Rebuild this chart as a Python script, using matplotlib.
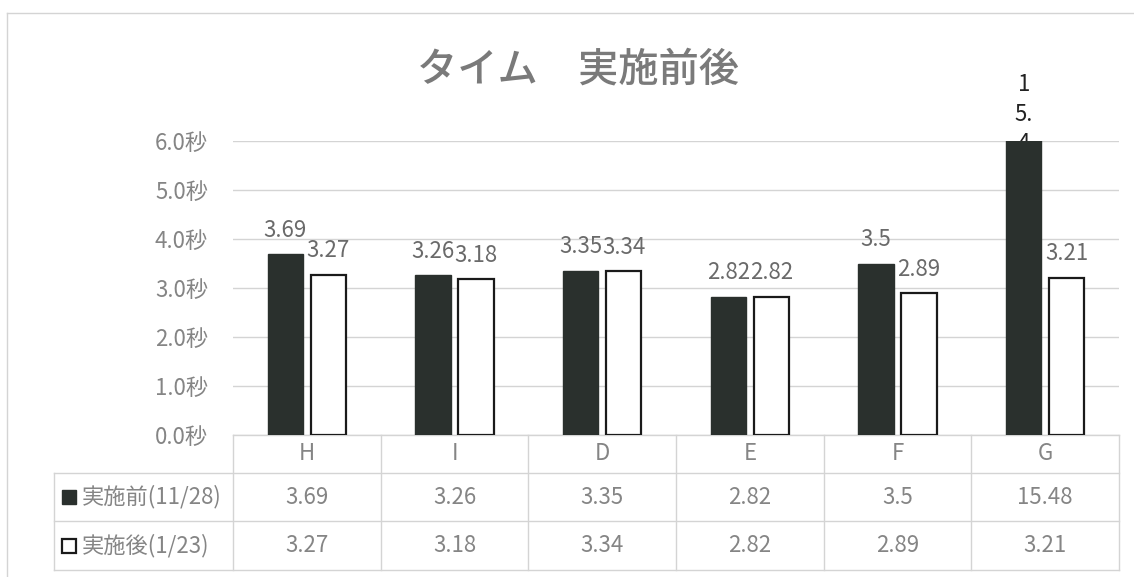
import matplotlib
matplotlib.use("Agg")
import matplotlib.pyplot as plt
from matplotlib.lines import Line2D
import matplotlib.transforms as mtransforms

plt.rcParams['font.family'] = ['Noto Sans CJK JP', 'DejaVu Sans']

categories = ["H", "I", "D", "E", "F", "G"]
before = [3.69, 3.26, 3.35, 2.82, 3.5, 15.48]
after = [3.27, 3.18, 3.34, 2.82, 2.89, 3.21]
series_names = ["実施前(11/28)", "実施後(1/23)"]
yticks = [0.0, 1.0, 2.0, 3.0, 4.0, 5.0, 6.0]
title = "タイム　実施前後"

W, H = 1134, 577
fig = plt.figure(figsize=(W / 100, H / 100), dpi=100)
fig.patch.set_facecolor("white")

# axes placement (pixels)
L, R, T, B = 233, 1119, 141, 435
ax = fig.add_axes([L / W, (H - B) / H, (R - L) / W, (B - T) / H])

dark = "#2a302d"
grey_txt = "#858585"
lbl_txt = "#6a6a6a"
line_c = "#d4d4d4"
fs = 16

ymax = 6.0
ax.set_ylim(0, ymax)
ax.set_xlim(-0.5, len(categories) - 0.5)

x = list(range(len(categories)))
bw = 0.24
off = 0.145
ax.bar([i - off for i in x], before, width=bw, color=dark, edgecolor=dark, zorder=3)
ax.bar([i + off for i in x], after, width=bw, color="white", edgecolor="#1a1a1a",
       linewidth=1.6, zorder=3)

for sp in ax.spines.values():
    sp.set_visible(False)
ax.set_yticks(yticks)
ax.set_yticklabels([f"{v:.1f}秒" for v in yticks], color=grey_txt, fontsize=fs)
ax.tick_params(axis="y", length=0, pad=18)
ax.set_xticks([])
ax.yaxis.grid(True, color=line_c, linewidth=1)
ax.set_axisbelow(True)

# data labels
for i, v in enumerate(before):
    if v <= ymax:
        ax.annotate(f"{v:g}", xy=(i - off, v), xytext=(0, 9), textcoords="offset points",
                    ha="center", va="bottom", fontsize=fs, color=lbl_txt, zorder=5)
    else:
        s = f"{v:g}"
        wrapped = "\n".join([s[0], s[1:3], s[3]])
        ax.annotate(wrapped, xy=(i - off, ymax), xytext=(0, -10), textcoords="offset points",
                    ha="center", va="bottom", fontsize=fs, color="#222222",
                    linespacing=1.35, annotation_clip=False, zorder=1)
for i, v in enumerate(after):
    ax.annotate(f"{v:g}", xy=(i + off, v), xytext=(0, 9), textcoords="offset points",
                ha="center", va="bottom", fontsize=fs, color=lbl_txt, zorder=5)

# data table
bt = mtransforms.blended_transform_factory(ax.transData, ax.transAxes)
axh = B - T
def fy(py):
    return (B - py) / axh
y_head_bot = fy(473)
y_r1_bot = fy(521)
y_r2_bot = fy(570)
x_lab = (54 - L) / (R - L)

def hline(y, x0, x1):
    ax.add_line(Line2D([x0, x1], [y, y], transform=ax.transAxes, color=line_c,
                       linewidth=1, clip_on=False))
def vline(x0, y0, y1):
    ax.add_line(Line2D([x0, x0], [y0, y1], transform=ax.transAxes, color=line_c,
                       linewidth=1, clip_on=False))

hline(0, 0, 1)
for yy in (y_head_bot, y_r1_bot, y_r2_bot):
    hline(yy, x_lab, 1)
vline(x_lab, y_head_bot, y_r2_bot)
for k in range(len(categories) + 1):
    vline(k / len(categories), 0, y_r2_bot)

for i, c in enumerate(categories):
    ax.text(i, y_head_bot / 2, c, transform=bt, ha="center", va="center",
            fontsize=fs, color=grey_txt)
    ax.text(i, (y_head_bot + y_r1_bot) / 2, f"{before[i]:g}", transform=bt,
            ha="center", va="center", fontsize=fs, color=grey_txt)
    ax.text(i, (y_r1_bot + y_r2_bot) / 2, f"{after[i]:g}", transform=bt,
            ha="center", va="center", fontsize=fs, color=grey_txt)

row_y = [(y_head_bot + y_r1_bot) / 2, (y_r1_bot + y_r2_bot) / 2]
mk_x = (69 - L) / (R - L)
txt_x = (82 - L) / (R - L)
ax.plot([mk_x], [row_y[0]], marker="s", markersize=10, color=dark, markeredgecolor=dark,
        transform=ax.transAxes, clip_on=False)
ax.plot([mk_x], [row_y[1]], marker="s", markersize=10, markerfacecolor="white",
        markeredgecolor="#1a1a1a", markeredgewidth=1.6, transform=ax.transAxes, clip_on=False)
for yy, name in zip(row_y, series_names):
    ax.text(txt_x, yy, name, transform=ax.transAxes, ha="left", va="center",
            fontsize=fs, color=grey_txt)

# title
fig.text(578 / W, 1 - 70 / H, title, ha="center", va="center", fontsize=29,
         color="#7a7a7a", fontweight="medium")

# outer chart border
fig.add_artist(Line2D([7 / W, 7 / W], [0, 1 - 13 / H], transform=fig.transFigure,
                      color=line_c, linewidth=1))
fig.add_artist(Line2D([7 / W, 1], [1 - 13 / H, 1 - 13 / H], transform=fig.transFigure,
                      color=line_c, linewidth=1))

fig.savefig("out.png", dpi=100)
